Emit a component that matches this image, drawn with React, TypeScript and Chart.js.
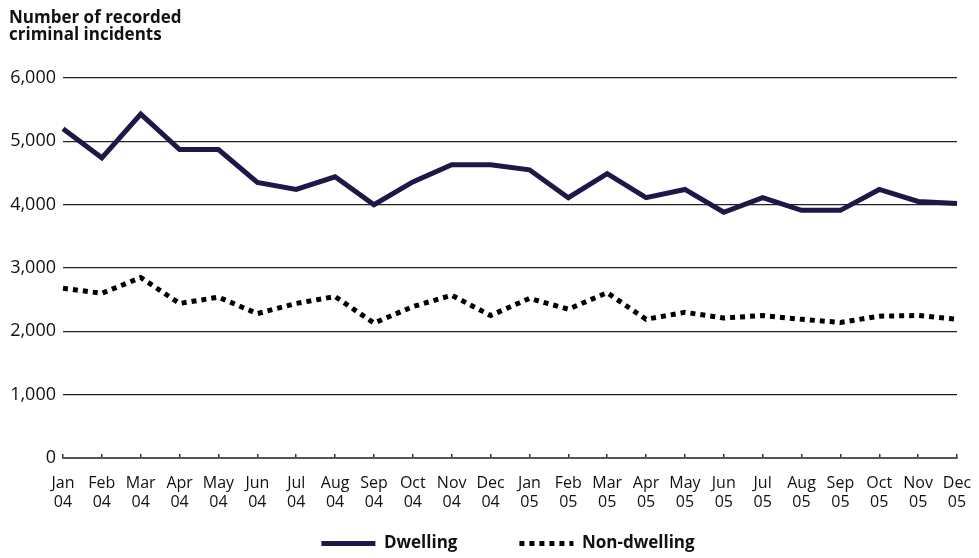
import React, { useEffect, useRef } from "react";
import { Chart, registerables } from "chart.js";

Chart.register(...registerables);

const months = [
  ["Jan", "04"], ["Feb", "04"], ["Mar", "04"], ["Apr", "04"], ["May", "04"], ["Jun", "04"],
  ["Jul", "04"], ["Aug", "04"], ["Sep", "04"], ["Oct", "04"], ["Nov", "04"], ["Dec", "04"],
  ["Jan", "05"], ["Feb", "05"], ["Mar", "05"], ["Apr", "05"], ["May", "05"], ["Jun", "05"],
  ["Jul", "05"], ["Aug", "05"], ["Sep", "05"], ["Oct", "05"], ["Nov", "05"], ["Dec", "05"],
];

const dwelling = [
  5200, 4740, 5430, 4870, 4870, 4350, 4240, 4440, 4000, 4360, 4630, 4630,
  4550, 4110, 4490, 4110, 4240, 3880, 4110, 3910, 3910, 4240, 4050, 4020,
];

const nonDwelling = [
  2680, 2600, 2850, 2440, 2540, 2280, 2440, 2550, 2130, 2390, 2570, 2250,
  2520, 2350, 2610, 2190, 2300, 2210, 2250, 2190, 2140, 2240, 2250, 2190,
];

const titleLines = ["Number of recorded", "criminal incidents"];
const FONT = "'Open Sans', Lato, sans-serif";

const layoutTweaks = {
  id: "layoutTweaks",
  afterLayout(chart: any) {
    if (chart.legend) {
      chart.legend.left += 25;
      chart.legend.right += 25;
    }
    const x = chart.scales.x;
    if (x) x.bottom += 45;
  },
};

export default function App() {
  const ref = useRef<HTMLCanvasElement | null>(null);

  useEffect(() => {
    if (!ref.current) return;
    const chart = new Chart(ref.current, {
      type: "line",
      data: {
        labels: months,
        datasets: [
          {
            label: "Dwelling",
            data: dwelling,
            borderColor: "#1c1847",
            backgroundColor: "#1c1847",
            borderWidth: 5,
            pointRadius: 0,
            pointStyle: "line",
            tension: 0,
            borderJoinStyle: "miter",
          },
          {
            label: "Non-dwelling",
            data: nonDwelling,
            borderColor: "#000000",
            backgroundColor: "#000000",
            borderWidth: 5,
            borderDash: [5, 5],
            pointRadius: 0,
            pointStyle: "line",
            tension: 0,
          },
        ],
      },
      plugins: [layoutTweaks],
      options: {
        animation: false,
        responsive: true,
        maintainAspectRatio: false,
        layout: { padding: { left: 9, right: 22, top: 10, bottom: -4 } },
        plugins: {
          tooltip: { enabled: false },
          title: {
            display: true,
            text: titleLines,
            align: "start",
            color: "#111",
            font: { family: FONT, size: 17, weight: "bold", lineHeight: 1.0 },
            padding: { top: 0, bottom: 34 },
          },
          legend: {
            position: "bottom",
            labels: {
              usePointStyle: true,
              pointStyleWidth: 54,
              padding: 62,
              color: "#111",
              font: { family: FONT, size: 17, weight: "bold" },
              generateLabels: (ch: any) =>
                ch.data.datasets.map((ds: any, i: number) => ({
                  text: ds.label,
                  datasetIndex: i,
                  fillStyle: ds.borderColor,
                  strokeStyle: ds.borderColor,
                  lineWidth: ds.borderWidth,
                  lineDash: ds.borderDash || [],
                  lineCap: "butt",
                  pointStyle: "line",
                  hidden: false,
                  fontColor: "#111",
                })),
            },
          },
        },
        scales: {
          x: {
            offset: false,
            afterFit: (s: any) => {
              s.paddingRight = 0;
              s.height = 15;
            },
            border: { display: true, color: "#555", width: 2 },
            grid: {
              display: true,
              drawOnChartArea: false,
              drawTicks: true,
              tickLength: -4,
              color: "#333",
              lineWidth: 1.5,
            },
            ticks: {
              autoSkip: false,
              maxRotation: 0,
              minRotation: 0,
              padding: 20,
              color: "#111",
              font: { family: FONT, size: 16, lineHeight: 1.2 },
            },
          },
          y: {
            min: 0,
            max: 6000,
            afterFit: (s: any) => {
              s.width = 54;
            },
            border: { display: false },
            grid: { color: "#222", lineWidth: 1.2, drawTicks: false },
            ticks: {
              stepSize: 1000,
              padding: 7,
              color: "#111",
              font: { family: FONT, size: 18 },
              callback: (v: any) => Number(v).toLocaleString("en-US"),
            },
          },
        },
      },
    });
    return () => chart.destroy();
  }, []);

  return (
    <div style={{ position: "absolute", left: 0, top: 0, width: 979, height: 558 }}>
      <canvas ref={ref} />
    </div>
  );
}
